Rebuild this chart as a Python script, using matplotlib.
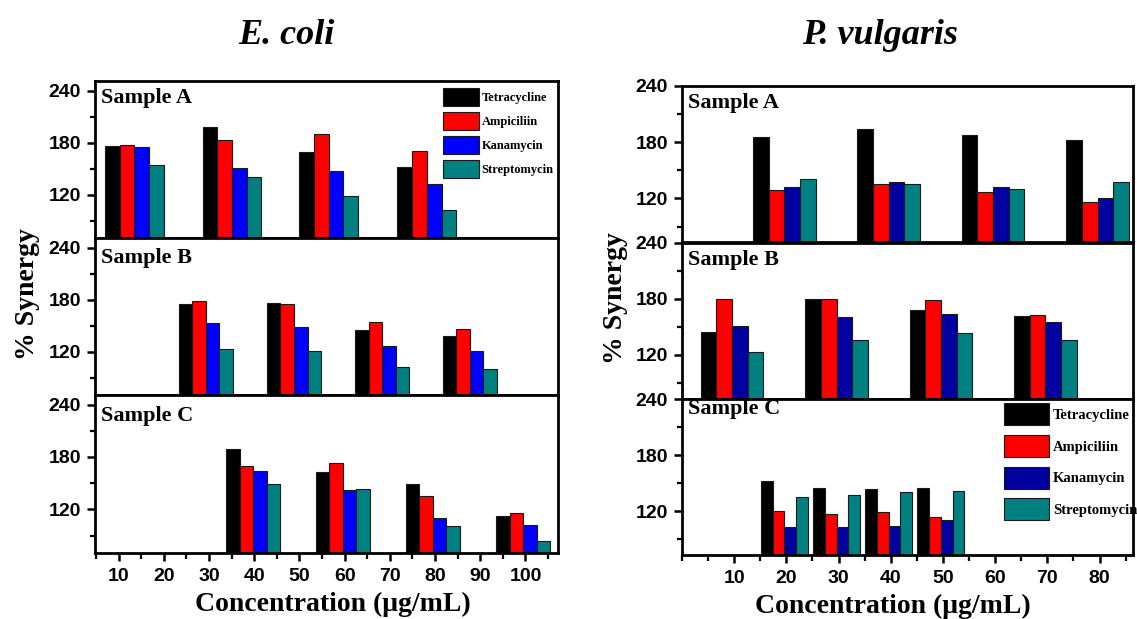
import matplotlib
matplotlib.use("Agg")
import matplotlib.pyplot as plt
from matplotlib.ticker import MultipleLocator, FixedLocator
import numpy as np

# ---------------- data ----------------
antibiotics = ["Tetracycline", "Ampiciliin", "Kanamycin", "Streptomycin"]
samples = ["Sample A", "Sample B", "Sample C"]

# E. coli: group positions on the concentration axis and % synergy per antibiotic
ecoli_x_a = [13.5, 35.1, 56.5, 78.2]
ecoli_x_b = [29.3, 48.8, 68.3, 87.7]
ecoli_x_c = [39.8, 59.6, 79.5, 99.5]
ecoli_a = [[176.6, 197.6, 168.9, 151.3],
           [177.7, 183.1, 190.3, 170.1],
           [174.6, 150.6, 146.8, 131.9],
           [154.4, 140.6, 118.9, 102.4]]
ecoli_b = [[175.4, 176.6, 145.2, 138.3],
           [178.1, 175.0, 154.0, 146.0],
           [152.5, 148.3, 126.1, 120.4],
           [123.1, 121.2, 102.0, 100.1]]
ecoli_c = [[189.6, 163.2, 149.0, 112.0],
           [169.6, 173.1, 134.9, 115.8],
           [163.4, 142.6, 110.1, 102.4],
           [148.5, 143.7, 100.9, 83.7]]

# P. vulgaris
vulg_x_a = [19.6, 39.6, 59.6, 79.6]
vulg_x_b = [9.6, 29.6, 49.6, 69.6]
vulg_x_c = [19.6, 29.6, 39.6, 49.6]
vulg_a = [[186.1, 193.7, 187.9, 182.2],
          [128.6, 135.8, 127.2, 116.4],
          [132.2, 138.0, 132.2, 120.7],
          [140.8, 135.1, 130.4, 137.6]]
vulg_b = [[144.4, 180.0, 168.5, 161.9],
          [180.0, 180.0, 178.9, 162.6],
          [151.1, 160.4, 163.7, 154.8],
          [123.0, 136.3, 143.0, 136.3]]
vulg_c = [[152.0, 145.1, 143.3, 145.1],
          [120.0, 116.8, 119.3, 113.9],
          [102.7, 102.7, 104.5, 111.0],
          [135.1, 136.9, 140.5, 141.2]]

y_major = [120, 180, 240]
y_minor = [90, 150, 210]
ecoli_xticks = [10, 20, 30, 40, 50, 60, 70, 80, 90, 100]
vulg_xticks = [10, 20, 30, 40, 50, 60, 70, 80]

# ---------------- styling ----------------
W, H = 1137, 619
SANS = "Liberation Sans"
SERIF = "Liberation Serif"
ecoli_colors = ["#000000", "#ff0000", "#0000ff", "#008080"]
vulg_colors = ["#000000", "#ff0000", "#0000a0", "#008080"]

fig = plt.figure(figsize=(W / 100, H / 100), dpi=100)


def rect(x0, y0, x1, y1):
    return [x0 / W, 1 - y1 / H, (x1 - x0) / W, (y1 - y0) / H]


def style_axis(ax, xlim, ylim, bottom, xticks, xminor_step):
    ax.set_xlim(*xlim)
    ax.set_ylim(*ylim)
    for s in ax.spines.values():
        s.set_linewidth(2.0)
    ax.yaxis.set_major_locator(FixedLocator(y_major))
    ax.yaxis.set_minor_locator(FixedLocator(y_minor))
    ax.tick_params(axis="y", which="major", direction="out", length=6,
                   width=1.8, pad=4, labelsize=14)
    ax.tick_params(axis="y", which="minor", direction="out", length=3.5,
                   width=1.6)
    for lab in ax.get_yticklabels():
        lab.set_fontfamily(SANS)
        lab.set_fontweight("bold")
    if bottom:
        ax.xaxis.set_major_locator(FixedLocator(xticks))
        ax.xaxis.set_minor_locator(MultipleLocator(xminor_step))
        ax.tick_params(axis="x", which="major", direction="out", length=6,
                       width=1.8, pad=5, labelsize=14)
        ax.tick_params(axis="x", which="minor", direction="out", length=4,
                       width=1.6)
        ax.set_xticklabels([str(t) for t in xticks])
        for lab in ax.get_xticklabels():
            lab.set_fontfamily(SANS)
            lab.set_fontweight("bold")
    else:
        ax.tick_params(axis="x", which="both", bottom=False, labelbottom=False)


def draw_bars(ax, xs, vals, width, colors):
    xs = np.asarray(xs)
    n = len(vals)
    for i, (v, c) in enumerate(zip(vals, colors)):
        ax.bar(xs + (i - (n - 1) / 2) * width, v, width=width, color=c,
               edgecolor="#1a1a1a", linewidth=0.8, label=antibiotics[i])


# ---------------- E. coli column ----------------
ecoli_rows = [(81, 238), (238, 395), (395, 553)]
ecoli_sets = [(ecoli_x_a, ecoli_a, 3.25), (ecoli_x_b, ecoli_b, 3.0),
              (ecoli_x_c, ecoli_c, 3.0)]
ecoli_label_y = [0.89, 0.87, 0.866]
ecoli_axes = []
for k, ((top, bot), (xs, vals, w)) in enumerate(zip(ecoli_rows, ecoli_sets)):
    ax = fig.add_axes(rect(95, top, 558, bot))
    draw_bars(ax, xs, vals, w, ecoli_colors)
    style_axis(ax, (4.8, 107.2), (70, 251), k == 2, ecoli_xticks, 5)
    ax.text(0.012, ecoli_label_y[k], samples[k], transform=ax.transAxes,
            ha="left", va="center", fontsize=16, fontweight="bold",
            family=SERIF)
    ecoli_axes.append(ax)

ecoli_axes[0].legend(loc="upper left", bbox_to_anchor=(0.738, 0.995),
                     frameon=False, borderpad=0, handlelength=2.85,
                     handleheight=1.8, labelspacing=0.5, handletextpad=0.25,
                     prop={"family": SERIF, "weight": "bold", "size": 9})

# ---------------- P. vulgaris column ----------------
vulg_rows = [(86, 242.5), (242.5, 399), (399, 555)]
vulg_sets = [(vulg_x_a, vulg_a, 3.0), (vulg_x_b, vulg_b, 3.0),
             (vulg_x_c, vulg_c, 2.25)]
vulg_label_y = [0.89, 0.89, 0.935]
vulg_axes = []
for k, ((top, bot), (xs, vals, w)) in enumerate(zip(vulg_rows, vulg_sets)):
    ax = fig.add_axes(rect(682, top, 1133, bot))
    draw_bars(ax, xs, vals, w, vulg_colors)
    style_axis(ax, (0, 86.4), (73, 240), k == 2, vulg_xticks, 5)
    ax.text(0.014, vulg_label_y[k], samples[k], transform=ax.transAxes,
            ha="left", va="center", fontsize=16, fontweight="bold",
            family=SERIF)
    vulg_axes.append(ax)

vulg_axes[2].legend(loc="upper left", bbox_to_anchor=(0.698, 1.02),
                    frameon=False, borderpad=0, handlelength=3.1,
                    handleheight=1.95, labelspacing=0.66, handletextpad=0.25,
                    prop={"family": SERIF, "weight": "bold", "size": 10.5})

# ---------------- titles and axis labels ----------------
fig.text(286 / W, 1 - 36 / H, "E. coli", ha="center", va="center",
         fontsize=26, fontweight="bold", fontstyle="italic", family=SERIF)
fig.text(880 / W, 1 - 36 / H, "P. vulgaris", ha="center", va="center",
         fontsize=26, fontweight="bold", fontstyle="italic", family=SERIF)

for xpix, ypix in [(28, 294), (616, 298)]:
    fig.text(xpix / W, 1 - ypix / H, "% Synergy", rotation=90, ha="center",
             va="center", fontsize=20, fontweight="bold", family=SERIF)

for xpix, ypix in [(333, 604), (893, 606)]:
    fig.text(xpix / W, 1 - ypix / H, "Concentration (\u03bcg/mL)",
             ha="center", va="center", fontsize=20, fontweight="bold",
             family=SERIF)

fig.savefig("out.png", dpi=100)
